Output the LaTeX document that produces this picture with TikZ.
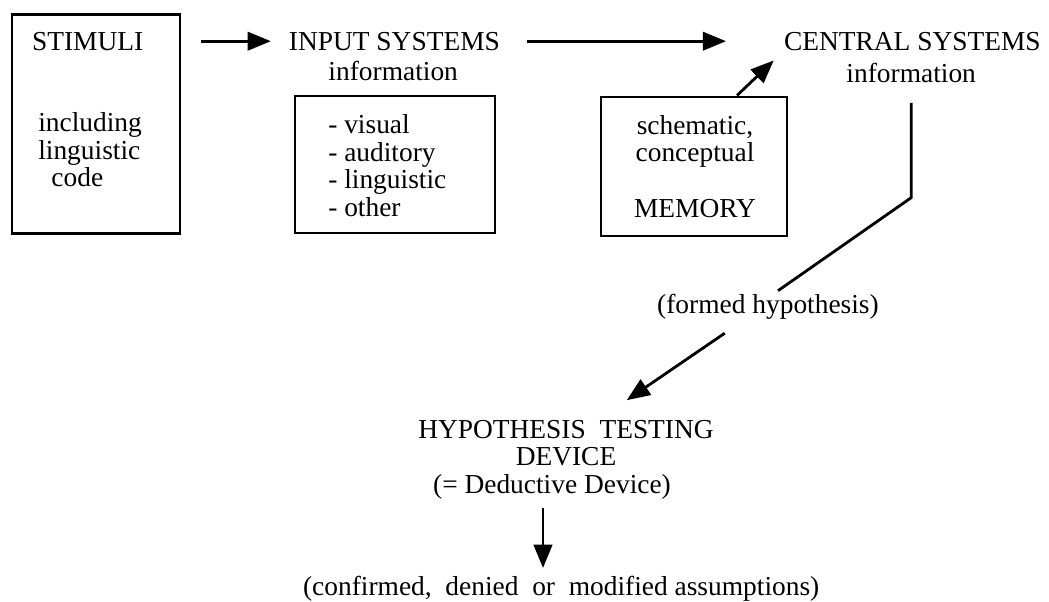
\documentclass[tikz,border=0pt]{standalone}
\usepackage{fontspec}
\setmainfont{Liberation Serif}
\usetikzlibrary{arrows.meta}

\begin{document}
\begin{tikzpicture}[
    every node/.style={
        font=\fontsize{19.5}{19.5}\selectfont,
        inner sep=2pt,
        anchor=center
    },
    box/.style={draw, line width=2pt},
    link/.style={line width=2pt},
    arrow/.style={-{Triangle[length=0.58cm, width=0.46cm]}, line width=2pt}
]
\useasboundingbox (0,0) rectangle (26.225,-15.025);

% Stimuli box
\node[box, minimum width=4.2cm, minimum height=5.475cm] (stimbox) at (2.4,-3.09) {};
\node (stimtitle) at (2.19,-1.03) {STIMULI};
\node[anchor=west, align=left] (stimtext) at (0.88,-3.75) {including\\linguistic\\\hspace*{0.33cm}code};

% Input systems
\node (inputtitle) at (9.86,-1.03) {INPUT SYSTEMS};
\node (inputinfo)  at (9.83,-1.77) {information};
\node[box, minimum width=5cm, minimum height=3.425cm] (inputbox) at (9.875,-4.11) {};
\node[anchor=west, align=left] (inputitems) at (8.13,-4.14) {- visual\\- auditory\\- linguistic\\- other};

% Central systems + memory
\node (centraltitle) at (22.81,-1.03) {CENTRAL SYSTEMS};
\node (centralinfo)  at (22.78,-1.82) {information};
\node[box, minimum width=4.65cm, minimum height=3.475cm] (membox) at (17.35,-4.16) {};
\node[align=center] (memtext) at (17.375,-4.16) {schematic,\\conceptual\\[0.7cm]MEMORY};

% Hypothesis and outcome
\node (formed) at (19.2,-7.66) {(formed hypothesis)};
\node[align=center] (hyp) at (14.15,-11.49) {HYPOTHESIS~ TESTING\\DEVICE\hspace*{1cm}\\(= Deductive Device)\hspace*{0.7cm}};
\node (concl) at (14.03,-14.71) {(confirmed,~ denied~ or~ modified assumptions)};

% Top row
\draw[arrow, shorten <=0.5cm, shorten >=0.375cm] (stimbox.east |- inputtitle.west) -- (inputtitle.west);
\draw[arrow, shorten <=0.6cm, shorten >=1.375cm] (inputtitle.east) -- (centraltitle.west);
\draw[arrow, shorten >=0.25cm] ([xshift=1.075cm]membox.north) -- (centraltitle.south west);

% Down to the testing device
\draw[link, shorten <=0.43cm] (centralinfo.south) -- ++(0,-2.8) -- ([xshift=0.25cm]formed.north);
\draw[arrow, shorten <=0.49cm, shorten >=0.75cm] ([xshift=-0.675cm]formed.south) -- ([xshift=0.9cm]hyp.north);
\draw[arrow, shorten <=0.15cm, shorten >=0.12cm] ([xshift=-0.575cm]hyp.south) -- ([xshift=-0.575cm]hyp.south |- concl.north);

\end{tikzpicture}
\end{document}
